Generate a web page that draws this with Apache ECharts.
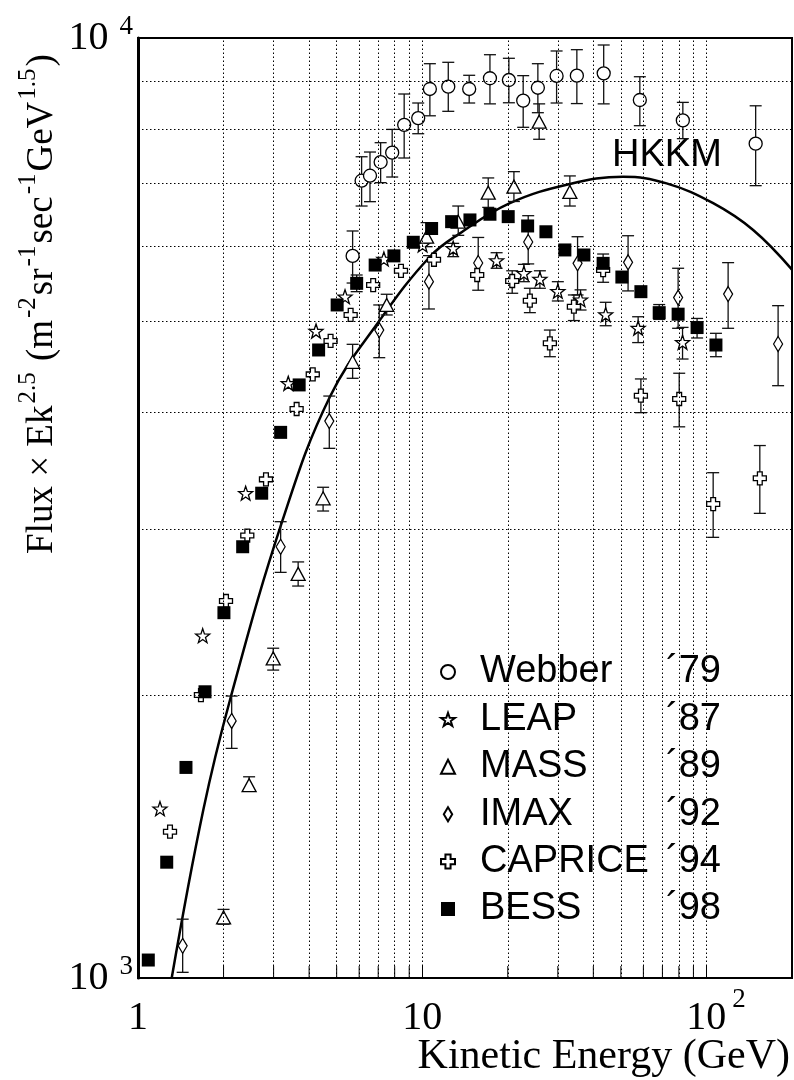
<!DOCTYPE html>
<html>
<head>
<meta charset="utf-8">
<script src="https://cdn.jsdelivr.net/npm/echarts@6/dist/echarts.min.js"></script>
<style>
html, body { margin: 0; padding: 0; background: #fff; }
#chart { width: 794px; height: 1080px; }
</style>
</head>
<body>
<div id="chart"></div>
<script>
// proton flux x Ek^2.5

const webberE  = [5.69, 6.12, 6.55, 7.14, 7.84, 8.64, 9.68, 10.64, 12.35, 14.63, 17.31, 20.18, 22.66, 25.52, 29.7, 35.0, 43.5, 58.3, 82.6, 149]
const webberF  = [5864, 7050, 7137, 7380, 7551, 8084, 8218, 8826, 8876, 8826, 9061, 9022, 8578, 8853, 9112, 9119, 9170, 8591, 8172, 7720]
const webberLo = [5487, 6626, 6697, 7016, 7114, 7453, 7910, 8265, 8356, 8528, 8510, 8533, 8035, 8328, 8528, 8516, 8510, 8067, 7815, 6965]
const webberHi = [6233, 7476, 7563, 7738, 7994, 8718, 8528, 9390, 9422, 9127, 9599, 9515, 9119, 9390, 9687, 9718, 9830, 9095, 8541, 8470]

const leapE  = [1.195, 1.689, 2.392, 3.378, 4.23, 5.35, 7.33, 10.03, 12.85, 18.27, 22.79, 25.94, 30.0, 36.07, 44.2, 57.5, 82.4]
const leapF  = [1514, 2313, 3279, 4292, 4878, 5306, 5820, 6023, 5974, 5799, 5620, 5542, 5378, 5268, 5080, 4914, 4746]
const leapLo = [null, null, null, null, null, null, null, null, 5853, 5689, 5505, 5417, 5251, 5136, 4942, 4742, 4555]
const leapHi = [null, null, null, null, null, null, null, null, 6047, 5910, 5744, 5654, 5505, 5396, 5234, 5052, 4922]

const massE  = [2.0, 2.46, 2.99, 3.66, 4.48, 5.69, 7.50, 10.36, 13.39, 17.07, 21.02, 25.79, 33.07]
const massF  = [1160, 1604, 2188, 2691, 3238, 4524, 5200, 6146, 6377, 6847, 6948, 8147, 6859]
const massLo = [1141, 1581, 2126, 2612, 3139, 4345, 5074, 5998, 6167, 6604, 6700, 7803, 6626]
const massHi = [1183, 1637, 2243, 2771, 3327, 4722, 5338, 6362, 6626, 7098, 7208, 8510, 7133]

const imaxE  = [1.436, 2.136, 3.176, 4.71, 7.06, 10.56, 15.74, 23.6, 35.2, 53.0, 79.5, 119.2, 178.7]
const imaxF  = [1082, 1877, 2876, 3913, 4890, 5505, 5763, 6067, 5758, 5773, 5295, 5341, 4726]
const imaxLo = [1014, 1755, 2701, 3660, 4570, 5149, 5391, 5750, 5329, 5382, 4911, 4911, 4267]
const imaxHi = [1155, 1995, 3058, 4160, 5200, 5868, 6135, 6471, 6146, 6161, 5689, 5768, 5191]

const capriceE  = [1.296, 1.665, 2.04, 2.424, 2.82, 3.615, 4.12, 4.76, 5.60, 6.72, 8.42, 11.0, 15.61, 20.73, 23.92, 28.13, 34.17, 43.3, 58.8, 80.2, 105.6, 154.1]
const capriceF  = [1431, 2000, 2518, 2956, 3392, 4030, 4387, 4761, 5074, 5460, 5654, 5809, 5596, 5514, 5255, 4734, 5178, 5664, 4164, 4130, 3193, 3401]
const capriceLo = [null, null, null, null, null, null, null, null, null, null, null, null, null, 5351, 5103, 4581, 5005, 5497, 3994, 3858, 2943, 3121]
const capriceHi = [null, null, null, null, null, null, null, null, null, null, null, null, null, 5654, 5417, 4890, 5329, 5891, 4338, 4399, 3448, 3685]

const bessE  = [1.087, 1.262, 1.475, 1.721, 2.006, 2.335, 2.724, 3.176, 3.69, 4.32, 5.02, 5.88, 6.83, 7.95, 9.30, 10.79, 12.69, 14.72, 17.31, 20.07, 23.49, 27.24, 31.76, 37.06, 43.3, 50.4, 58.8, 68.2, 79.5, 92.7, 108]
const bessF  = [1045, 1328, 1675, 2016, 2447, 2876, 3279, 3806, 4275, 4657, 5200, 5483, 5734, 5864, 6063, 6271, 6377, 6404, 6494, 6456, 6310, 6221, 5950, 5877, 5758, 5568, 5372, 5103, 5084, 4920, 4714]
const bessLo = [null, null, null, null, null, null, null, null, null, null, null, 5372, null, null, null, null, null, null, null, null, null, null, null, null, null, null, null, 5019, null, 4796, 4581]
const bessHi = [null, null, null, null, null, null, null, null, null, null, null, 5596, null, null, null, null, null, null, null, null, null, null, null, null, null, null, null, 5205, null, 5031, 4851]

// HKKM calculation curve
const hkkmE = [1.314, 1.697, 2.107, 3.228, 4.735, 7.10, 10.64, 13.57, 20.35, 33.07, 50.9, 72.4, 105.6, 146, 200]
const hkkmF = [1000, 1509, 1976, 3071, 4153, 5012, 5852, 6197, 6672, 6993, 7119, 7004, 6672, 6248, 5670]

const legendNames = ['Webber', 'LEAP', 'MASS', 'IMAX', 'CAPRICE', 'BESS']
const legendYears = ['\u00b479', '\u00b487', '\u00b489', '\u00b492', '\u00b494', '\u00b498']

const xGridVals = [2, 3, 4, 5, 6, 7, 8, 9, 10, 20, 30, 40, 50, 60, 70, 80, 90, 100]
const yGridVals = [2000, 3000, 4000, 5000, 6000, 7000, 8000, 9000]
const xMinorTicks = [2, 3, 4, 5, 6, 7, 8, 9, 20, 30, 40, 50, 60, 70, 80, 90]

const X_MIN = 1, X_MAX = 200, Y_MIN = 1000, Y_MAX = 10000

const SERIF = 'Liberation Serif'
const SANS = 'Liberation Sans'

const STAR = 'path://M0,-10L2.35,-3.24L9.51,-3.09L3.8,1.24L5.88,8.09L0,4L-5.88,8.09L-3.8,1.24L-9.51,-3.09L-2.35,-3.24Z'
const PLUS = 'path://M-1.1,-3L1.1,-3L1.1,-1.1L3,-1.1L3,1.1L1.1,1.1L1.1,3L-1.1,3L-1.1,1.1L-3,1.1L-3,-1.1L-1.1,-1.1Z'
const DIAMOND = 'path://M0,-7L4.2,0L0,7L-4.2,0Z'

function points(E, F) {
    return E.map((e, i) => [e, F[i]])
}

function bars(E, lo, hi) {
    return E.map((e, i) => lo[i] == null ? null : [e, lo[i], hi[i]]).filter(d => d)
}

function errorSeries(name, data) {
    return {
        type: 'custom',
        name: name + ' err',
        z: 3,
        silent: true,
        clip: true,
        encode: { x: 0, y: [1, 2] },
        data: data,
        renderItem: (params, api) => {
            const top = api.coord([api.value(0), api.value(2)])
            const bot = api.coord([api.value(0), api.value(1)])
            const w = 6
            const st = { stroke: '#111', lineWidth: 1.3 }
            return {
                type: 'group',
                children: [
                    { type: 'line', shape: { x1: top[0], y1: top[1], x2: bot[0], y2: bot[1] }, style: st },
                    { type: 'line', shape: { x1: top[0] - w, y1: top[1], x2: top[0] + w, y2: top[1] }, style: st },
                    { type: 'line', shape: { x1: bot[0] - w, y1: bot[1], x2: bot[0] + w, y2: bot[1] }, style: st }
                ]
            }
        }
    }
}

function markerSeries(name, symbol, size, data, filled) {
    return {
        type: 'scatter',
        name: name,
        z: 4,
        symbol: symbol,
        symbolSize: size,
        itemStyle: {
            color: filled ? '#000' : '#fff',
            borderColor: '#000',
            borderWidth: filled ? 0 : 1.3,
            opacity: 1
        },
        data: data
    }
}

// only powers of ten get a label
function powerOfTen(v) {
    const e = Math.log10(v)
    return Math.abs(e - Math.round(e)) < 1e-6 ? Math.round(e) : null
}

const chart = echarts.init(document.getElementById('chart'), null, { renderer: 'canvas' })

const option = {
    animation: false,
    backgroundColor: '#fff',
    grid: {
        left: 138, right: 2, top: 38, bottom: 102,
        outerBoundsMode: 'none',
        containLabel: false,
        show: true, borderColor: '#000', borderWidth: 2
    },
    xAxis: {
        type: 'log',
        logBase: 10,
        min: X_MIN,
        max: X_MAX,
        axisLine: { lineStyle: { color: '#000', width: 2 } },
        axisTick: { show: true, inside: true, length: 12, lineStyle: { color: '#000', width: 1 } },
        splitLine: { show: false },
        axisLabel: {
            margin: 8,
            color: '#000',
            showMinLabel: true,
            showMaxLabel: false,
            formatter: v => {
                const e = powerOfTen(v)
                if (e === null) return ''
                if (e === 0) return '{a|1}'
                if (e === 1) return '{a|10}'
                return '{h|}{a|10}{s|' + e + '}'
            },
            rich: {
                a: { fontFamily: SERIF, fontSize: 40, lineHeight: 64, color: '#000' },
                s: { fontFamily: SERIF, fontSize: 27, lineHeight: 20, verticalAlign: 'top', padding: [0, 0, 0, 6], color: '#000' },
                h: { width: 19 }
            }
        }
    },
    yAxis: {
        type: 'log',
        logBase: 10,
        min: Y_MIN,
        max: Y_MAX,
        axisLine: { lineStyle: { color: '#000', width: 3 } },
        axisTick: { show: false },
        splitLine: { show: false },
        axisLabel: {
            margin: 5,
            color: '#000',
            showMinLabel: true,
            showMaxLabel: true,
            formatter: v => {
                const e = powerOfTen(v)
                return e === null ? '' : '{a|10}{s|' + e + '}'
            },
            rich: {
                a: { fontFamily: SERIF, fontSize: 40, lineHeight: 50, color: '#000' },
                s: { fontFamily: SERIF, fontSize: 27, lineHeight: 16, verticalAlign: 'top', padding: [0, 0, 0, 11], color: '#000' }
            }
        }
    },
    legend: {
        orient: 'vertical',
        left: 440,
        top: 653,
        padding: 0,
        itemWidth: 14,
        itemHeight: 14,
        itemGap: 9.4,
        selectedMode: false,
        data: legendNames,
        formatter: name => '{sp|}{n|' + name + '}{y|' + legendYears[legendNames.indexOf(name)] + '}',
        textStyle: {
            rich: {
                sp: { width: 20 },
                n: { fontFamily: SANS, fontSize: 38, lineHeight: 40, width: 186, color: '#000' },
                y: { fontFamily: SANS, fontSize: 38, lineHeight: 40, color: '#000' }
            }
        }
    },
    graphic: [
        {
            type: 'text',
            x: 42,
            y: 304,
            rotation: Math.PI / 2,
            silent: true,
            style: {
                text: '{t|Flux \u00d7 Ek}{s|2.5}{t| (m}{s|-2}{t|sr}{s|-1}{t|sec}{s|-1}{t|GeV}{s|1.5}{t|)}',
                align: 'center',
                verticalAlign: 'middle',
                fill: '#000',
                rich: {
                    t: { fontFamily: SERIF, fontSize: 37, lineHeight: 52, fill: '#000' },
                    s: { fontFamily: SERIF, fontSize: 25, lineHeight: 20, verticalAlign: 'top', padding: [0, 2, 0, 2], fill: '#000' }
                }
            }
        },
        {
            type: 'text',
            x: 790,
            y: 1057,
            silent: true,
            style: {
                text: 'Kinetic Energy (GeV)',
                fontFamily: SERIF,
                fontSize: 42,
                fill: '#000',
                align: 'right',
                verticalAlign: 'middle'
            }
        },
        {
            type: 'text',
            x: 612,
            y: 156,
            silent: true,
            style: {
                text: 'HKKM',
                fontFamily: SANS,
                fontSize: 38,
                fill: '#000',
                align: 'left',
                verticalAlign: 'middle'
            }
        }
    ],
    series: [
        {
            type: 'line',
            name: 'HKKM',
            z: 2,
            smooth: 0.4,
            showSymbol: false,
            symbol: 'none',
            silent: true,
            lineStyle: { color: '#000', width: 2.5 },
            data: points(hkkmE, hkkmF),
            markLine: {
                silent: true,
                symbol: ['none', 'none'],
                animation: false,
                label: { show: false },
                lineStyle: { color: '#000', width: 1, type: [1.5, 2.5] },
                data: xGridVals.map(v => ({ xAxis: v })).concat(yGridVals.map(v => ({ yAxis: v })))
            }
        },
        {
            type: 'custom',
            name: 'ticks',
            z: 2,
            silent: true,
            encode: { x: 0, y: 1 },
            data: xMinorTicks.map(v => [v, Y_MIN]),
            renderItem: (params, api) => {
                const p = api.coord([api.value(0), api.value(1)])
                return {
                    type: 'line',
                    shape: { x1: p[0], y1: p[1], x2: p[0], y2: p[1] - 12 },
                    style: { stroke: '#000', lineWidth: 1 }
                }
            }
        },
        errorSeries('Webber', bars(webberE, webberLo, webberHi)),
        errorSeries('LEAP', bars(leapE, leapLo, leapHi)),
        errorSeries('MASS', bars(massE, massLo, massHi)),
        errorSeries('IMAX', bars(imaxE, imaxLo, imaxHi)),
        errorSeries('CAPRICE', bars(capriceE, capriceLo, capriceHi)),
        errorSeries('BESS', bars(bessE, bessLo, bessHi)),
        markerSeries('Webber', 'circle', 13, points(webberE, webberF), false),
        markerSeries('LEAP', STAR, 14, points(leapE, leapF), false),
        markerSeries('MASS', 'triangle', [14, 13], points(massE, massF), false),
        markerSeries('IMAX', DIAMOND, [9, 15], points(imaxE, imaxF), false),
        markerSeries('CAPRICE', PLUS, 13, points(capriceE, capriceF), false),
        markerSeries('BESS', 'rect', 13, points(bessE, bessF), true)
    ]
}

chart.setOption(option)
</script>
</body>
</html>
